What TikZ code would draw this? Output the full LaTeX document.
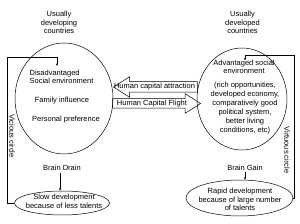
\documentclass[tikz,border=0pt]{standalone}
\usepackage{fontspec}
\setmainfont{Liberation Sans}
\usetikzlibrary{shapes.geometric,shapes.arrows,arrows.meta}
\begin{document}
\begin{tikzpicture}[x=1pt,y=-1pt,
  every node/.style={font=\fontsize{7.5}{8.6}\selectfont, inner sep=0pt, align=center},
  line width=0.5pt,
  >={Stealth[length=2.6pt,width=2.2pt]},
  oval/.style={draw, ellipse, inner sep=0pt},
  bigarrow/.style={draw, single arrow, text height=7pt, text depth=0pt,
     inner ysep=1.5pt, inner xsep=0pt, single arrow head extend=5pt,
     single arrow tip angle=65},
  sidetext/.style={rotate=-90}
]
\useasboundingbox (0,0) rectangle (300,224);
% headings
\node (hl) at (59,22.5) {Usually\\developing\\countries};
\node (hr) at (242.5,22.5) {Usually\\developed\\countries};
% main ellipses
\node[oval, minimum width=98pt, minimum height=111pt] (dev) at (64,98.5) {};
\node[oval, minimum width=90pt, minimum height=102pt] (devd) at (242,99) {};
% left ellipse texts
\node[align=left] (dis) at (61.5,77) {Disadvantaged\\Social environment};
\node (fam) at (62,101) {Family influence};
\node (pers) at (66,120) {Personal preference};
% right ellipse texts
\node (adv) at (244,67) {Advantaged social\\environment};
\node[font=\fontsize{7.5}{9}\selectfont] (rich) at (245,108.5) {(rich opportunities,\\developed economy,\\comparatively good\\political system,\\better living\\conditions, etc)};
% big arrows
\node[bigarrow, shape border rotate=180, minimum height=84pt, anchor=tip] (att) at (113,87) {};
\node (atttxt) at (154.5,87) {Human capital attraction};
\node[bigarrow, minimum height=88pt, anchor=tip, text height=6pt, single arrow head extend=5pt] (flt) at (201,103.5) {};
\node (flttxt) at (152,103.5) {Human Capital Flight};
% bottom
\node (bd) at (62,168) {Brain Drain};
\node[oval, minimum width=95pt, minimum height=24pt] (slow) at (62,203) {};
\node (slowtxt) at (64,201.5) {Slow development\\because of less talents};
\node (bg) at (245,168) {Brain Gain};
\node[oval, minimum width=107pt, minimum height=36pt] (rapid) at (239.5,198) {};
\node (rapidtxt) at (240,199.5) {Rapid development\\because of large number\\of talents};
\draw[->] (bd.south) ++(-2,1.5) coordinate (bd1) -- (bd1 |- slow.north);
\draw[->] (bg.south) ++(0,1) coordinate (bg1) -- (bg1 |- rapid.north);
% loops
\coordinate (lc) at (7,57);
\coordinate (la) at (57,57);
\draw[->] (slow.west) -- (slow.west -| lc) -- (lc) -- (la) -- (57,66);
\coordinate (rc) at (294,55);
\coordinate (ra) at (245,55);
\draw[->] (rapid.east) -- (rapid.east -| rc) -- (rc) -- (ra) -- (245,60.5);
\node[sidetext] (vic) at (12,136) {Vicious circle};
\node[sidetext] (vir) at (287,150) {Virtuous circle};
\end{tikzpicture}
\end{document}
